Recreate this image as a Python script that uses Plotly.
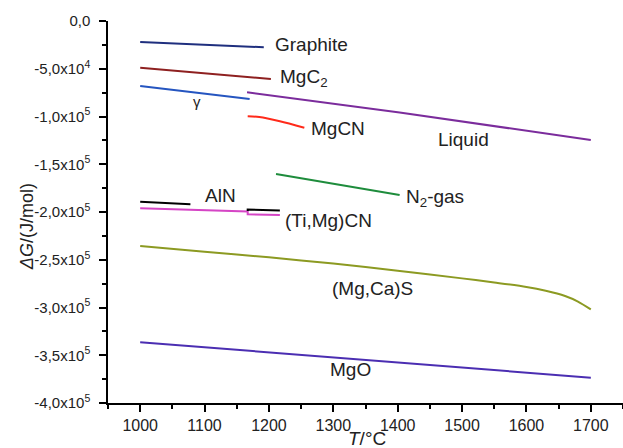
import plotly.graph_objects as go

# ---- data ----
graphite_x = [1000, 1192]
graphite_y = [-22000, -27500]
mgc2_x = [1000, 1203]
mgc2_y = [-48900, -60700]
gamma_x = [1000, 1170]
gamma_y = [-68000, -81700]
liquid_x = [1166, 1403, 1700]
liquid_y = [-74700, -95800, -124600]
mgcn_x = [1167, 1185, 1217, 1255]
mgcn_y = [-99700, -100600, -105000, -111700]
n2_x = [1211, 1403]
n2_y = [-160200, -182200]
aln1_x = [1000, 1078]
aln1_y = [-189200, -192000]
aln2_x = [1167, 1167, 1217]
aln2_y = [-199000, -197300, -198400]
timgcn_x = [1000, 1167, 1167, 1217]
timgcn_y = [-196100, -199500, -202400, -203200]
mgcas_x = [1000, 1100, 1200, 1300, 1400, 1500, 1550, 1600, 1630, 1660, 1680, 1700]
mgcas_y = [-235600, -241500, -247500, -254000, -261500, -269500, -273800,
           -278500, -282500, -288000, -293800, -302000]
mgo_x = [1000, 1300, 1500, 1700]
mgo_y = [-336400, -352300, -363000, -373500]

y_tickvals = [0, -50000, -100000, -150000, -200000, -250000, -300000, -350000, -400000]
y_ticktext = ["0,0", "-5,0x10<sup>4</sup>", "-1,0x10<sup>5</sup>", "-1,5x10<sup>5</sup>",
              "-2,0x10<sup>5</sup>", "-2,5x10<sup>5</sup>", "-3,0x10<sup>5</sup>",
              "-3,5x10<sup>5</sup>", "-4,0x10<sup>5</sup>"]

series = [
    (graphite_x, graphite_y, "#1f2f7e", "linear"),
    (mgc2_x, mgc2_y, "#8e2020", "linear"),
    (gamma_x, gamma_y, "#2555c0", "linear"),
    (liquid_x, liquid_y, "#7b2c9c", "linear"),
    (mgcn_x, mgcn_y, "#ff2a1a", "spline"),
    (n2_x, n2_y, "#1e8c3c", "linear"),
    (timgcn_x, timgcn_y, "#d545c5", "linear"),
    (aln1_x, aln1_y, "#000000", "linear"),
    (aln2_x, aln2_y, "#000000", "linear"),
    (mgcas_x, mgcas_y, "#8c9a22", "spline"),
    (mgo_x, mgo_y, "#4b2eb2", "linear"),
]

FONT = "Liberation Sans, Arial, sans-serif"

fig = go.Figure()
for xs, ys, c, shp in series:
    fig.add_trace(go.Scatter(x=xs, y=ys, mode="lines",
                             line=dict(color=c, width=2, shape=shp, smoothing=0.8),
                             showlegend=False, hoverinfo="skip"))

labels = [
    (1205.8, -25100, "Graphite", "left", 19),
    (1213.5, -59200, "MgC<sub>2</sub>", "left", 19),
    (1089, -83800, "γ", "center", 15),
    (1263, -112400, "MgCN", "left", 19),
    (1501.7, -123900, "Liquid", "center", 19),
    (1409.5, -185700, "N<sub>2</sub>-gas", "left", 19),
    (1124.6, -182300, "AlN", "center", 19),
    (1221.8, -208400, "(Ti,Mg)CN", "left", 19),
    (1360.5, -279900, "(Mg,Ca)S", "center", 19),
    (1327, -365400, "MgO", "center", 19),
]
for x, y, t, anc, sz in labels:
    fig.add_annotation(x=x, y=y, text=t, showarrow=False, xanchor=anc,
                       yanchor="middle", font=dict(family=FONT, size=sz, color="#222222"))

# axis titles
fig.add_annotation(xref="paper", yref="paper", x=-0.157, y=0.4607,
                   text="<i>ΔG</i>/(J/mol)", textangle=-90, showarrow=False,
                   xanchor="center", yanchor="middle",
                   font=dict(family=FONT, size=18, color="#222222"))
fig.add_annotation(xref="paper", yref="paper", x=0.503, y=-0.092,
                   text="<i>T</i>/°C", showarrow=False,
                   xanchor="center", yanchor="middle",
                   font=dict(family=FONT, size=19, color="#222222"))

fig.update_layout(
    width=623, height=448,
    margin=dict(l=108, r=0, t=21, b=45),
    paper_bgcolor="white", plot_bgcolor="white",
    font=dict(family=FONT, color="#222222"),
    xaxis=dict(range=[950, 1750], tick0=1000, dtick=100, showgrid=False, zeroline=False,
               showline=True, linecolor="black", linewidth=1.5,
               ticks="outside", ticklen=7, tickwidth=1.5, tickcolor="black",
               tickfont=dict(family=FONT, size=16, color="#222222"),
               minor=dict(ticks="outside", ticklen=4, tickwidth=1.5, tickcolor="black",
                          dtick=50, tick0=950, showgrid=False)),
    yaxis=dict(range=[-400000, 0], tickvals=y_tickvals, ticktext=y_ticktext,
               showgrid=False, zeroline=False,
               showline=True, linecolor="black", linewidth=1.5,
               ticks="outside", ticklen=7, tickwidth=1.5, tickcolor="black",
               ticklabelstandoff=6,
               tickfont=dict(family=FONT, size=15, color="#222222"),
               minor=dict(ticks="outside", ticklen=4, tickwidth=1.5, tickcolor="black",
                          dtick=25000, tick0=0, showgrid=False)),
)

fig.write_html("out.html", config={"displayModeBar": False},
               post_script="document.body.style.margin='0';document.body.style.padding='0';")
